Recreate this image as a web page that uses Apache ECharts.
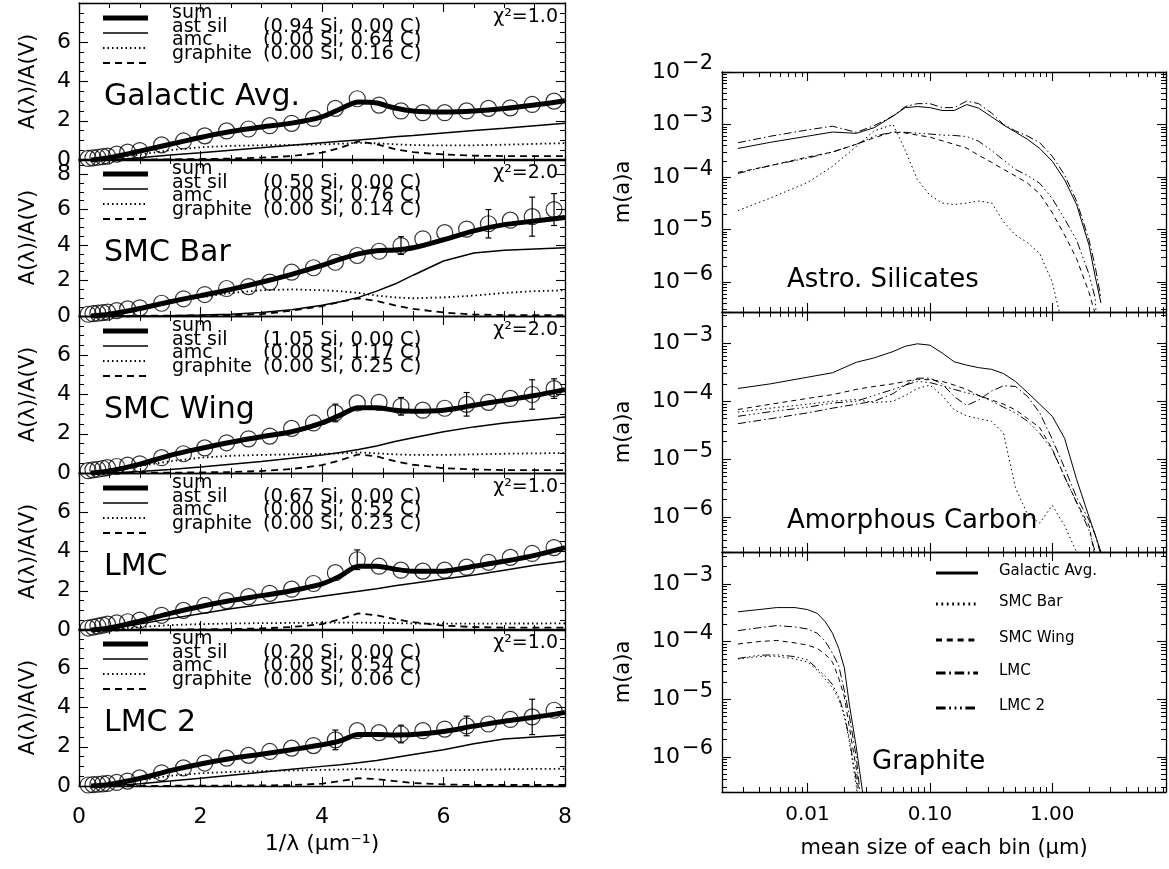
<!DOCTYPE html>
<html>
<head>
<meta charset="utf-8">
<script src="https://cdn.jsdelivr.net/npm/echarts@6/dist/echarts.min.js"></script>
<style>
  html, body { margin: 0; background: #fff; }
  #chart { width: 1169px; height: 869px; }
</style>
</head>
<body>
<div id="chart"></div>
<script>
  // 1/lambda positions of the observed points (same for every sight line)
  const xObs = [0.15, 0.23, 0.31, 0.39, 0.47, 0.62, 0.8, 1.0, 1.36, 1.72, 2.07, 2.43, 2.79, 3.14, 3.5, 3.86, 4.22, 4.58, 4.94, 5.3, 5.66, 6.02, 6.38, 6.74, 7.1, 7.46, 7.82]
  // 1/lambda positions of the model curves
  const xMod = [0.2, 0.5, 1, 1.5, 2, 2.5, 3, 3.5, 4, 4.3, 4.6, 4.9, 5.2, 5.5, 6, 6.5, 7, 7.5, 8]

  // Galactic Avg.
  const galObs = [0.08, 0.11, 0.14, 0.17, 0.2, 0.3, 0.4, 0.48, 0.77, 0.97, 1.23, 1.48, 1.58, 1.75, 1.87, 2.12, 2.63, 3.12, 2.8, 2.5, 2.41, 2.41, 2.5, 2.63, 2.66, 2.83, 3.0]
  const galSum = [0, 0.12, 0.45, 0.8, 1.15, 1.45, 1.68, 1.88, 2.2, 2.6, 2.95, 2.9, 2.65, 2.5, 2.45, 2.5, 2.62, 2.8, 3.02]
  const galSil = [0, 0, 0.12, 0.25, 0.37, 0.5, 0.62, 0.75, 0.88, 0.95, 1.02, 1.1, 1.18, 1.25, 1.38, 1.5, 1.62, 1.75, 1.87]
  const galAmc = [0, 0.08, 0.28, 0.5, 0.65, 0.72, 0.75, 0.77, 0.8, 0.83, 0.88, 0.85, 0.8, 0.76, 0.74, 0.75, 0.78, 0.82, 0.86]
  const galGra = [0, 0.01, 0.02, 0.03, 0.05, 0.07, 0.12, 0.2, 0.38, 0.62, 0.95, 0.8, 0.55, 0.4, 0.28, 0.22, 0.2, 0.2, 0.2]

  // SMC Bar
  const barObs = [0.1, 0.13, 0.16, 0.19, 0.22, 0.3, 0.4, 0.46, 0.72, 0.97, 1.21, 1.55, 1.66, 1.91, 2.47, 2.72, 3.03, 3.41, 3.65, 3.97, 4.35, 4.7, 4.9, 5.2, 5.4, 5.6, 6.0]
  const barErrX = [5.3, 6.74, 7.46, 7.82]
  const barErrLen = [0.5, 0.8, 1.1, 0.9]
  const barSum = [0, 0.1, 0.42, 0.8, 1.15, 1.5, 1.9, 2.35, 2.85, 3.2, 3.5, 3.68, 3.72, 3.85, 4.3, 4.8, 5.15, 5.35, 5.55]
  const barSil = [0, 0, 0, 0.02, 0.05, 0.1, 0.2, 0.35, 0.6, 0.8, 1.05, 1.4, 1.8, 2.3, 3.1, 3.55, 3.7, 3.78, 3.85]
  const barAmc = [0, 0.08, 0.35, 0.75, 1.05, 1.3, 1.45, 1.5, 1.45, 1.4, 1.3, 1.15, 1.05, 1.0, 1.05, 1.15, 1.3, 1.4, 1.45]
  const barGra = [0, 0, 0.01, 0.02, 0.03, 0.05, 0.1, 0.3, 0.55, 0.8, 1.0, 0.85, 0.6, 0.4, 0.2, 0.08, 0.05, 0.05, 0.05]

  // SMC Wing
  const wingObs = [0.12, 0.16, 0.19, 0.23, 0.27, 0.33, 0.4, 0.47, 0.78, 0.98, 1.28, 1.54, 1.74, 1.88, 2.27, 2.55, 3.06, 3.57, 3.6, 3.4, 3.2, 3.3, 3.5, 3.6, 3.8, 4.0, 4.3]
  const wingErrX = [4.22, 5.3, 6.38, 7.46, 7.82]
  const wingErrLen = [0.45, 0.45, 0.6, 0.75, 0.5]
  const wingSum = [0, 0.1, 0.45, 0.9, 1.25, 1.57, 1.85, 2.1, 2.55, 2.95, 3.32, 3.32, 3.2, 3.15, 3.2, 3.45, 3.7, 3.95, 4.25]
  const wingSil = [0, 0, 0.08, 0.18, 0.3, 0.45, 0.58, 0.75, 0.92, 1.05, 1.2, 1.38, 1.6, 1.8, 2.1, 2.35, 2.55, 2.7, 2.85]
  const wingAmc = [0, 0.1, 0.35, 0.6, 0.78, 0.88, 0.92, 0.95, 0.97, 1.0, 1.05, 1.0, 0.95, 0.92, 0.92, 0.95, 0.98, 1.0, 1.02]
  const wingGra = [0, 0, 0.01, 0.02, 0.03, 0.05, 0.1, 0.2, 0.4, 0.65, 0.95, 0.85, 0.6, 0.42, 0.25, 0.18, 0.15, 0.15, 0.15]

  // LMC
  const lmcObs = [0.1, 0.15, 0.2, 0.25, 0.3, 0.36, 0.42, 0.5, 0.75, 1.0, 1.25, 1.5, 1.7, 1.87, 2.08, 2.37, 2.92, 3.58, 3.25, 3.05, 3.0, 3.05, 3.2, 3.45, 3.7, 3.9, 4.2]
  const lmcErrX = [4.58]
  const lmcErrLen = [0.5]
  const lmcSum = [0, 0.1, 0.45, 0.85, 1.2, 1.5, 1.75, 2.0, 2.35, 2.75, 3.25, 3.25, 3.1, 3.0, 3.0, 3.25, 3.5, 3.8, 4.2]
  const lmcSil = [0, 0.05, 0.3, 0.58, 0.83, 1.08, 1.3, 1.5, 1.72, 1.85, 1.97, 2.1, 2.25, 2.38, 2.6, 2.8, 3.05, 3.3, 3.5]
  const lmcAmc = [0, 0.05, 0.15, 0.25, 0.3, 0.33, 0.35, 0.36, 0.37, 0.38, 0.38, 0.36, 0.35, 0.33, 0.32, 0.32, 0.33, 0.33, 0.34]
  const lmcGra = [0, 0, 0.01, 0.02, 0.03, 0.05, 0.08, 0.15, 0.3, 0.55, 0.85, 0.75, 0.55, 0.4, 0.22, 0.15, 0.12, 0.12, 0.12]

  // LMC 2
  const lmc2Obs = [0.05, 0.07, 0.09, 0.11, 0.13, 0.18, 0.25, 0.41, 0.67, 0.92, 1.17, 1.42, 1.56, 1.76, 1.93, 2.06, 2.35, 2.82, 2.72, 2.65, 2.82, 2.9, 3.06, 3.16, 3.39, 3.52, 3.86]
  const lmc2ErrX = [4.22, 5.3, 6.38, 7.46]
  const lmc2ErrLen = [0.5, 0.45, 0.5, 0.9]
  const lmc2Sum = [0, 0.08, 0.38, 0.78, 1.12, 1.4, 1.62, 1.85, 2.1, 2.3, 2.62, 2.62, 2.6, 2.62, 2.78, 3.05, 3.3, 3.5, 3.75]
  const lmc2Sil = [0, 0, 0.12, 0.25, 0.4, 0.55, 0.7, 0.85, 1.0, 1.08, 1.18, 1.3, 1.45, 1.6, 1.85, 2.15, 2.4, 2.5, 2.6]
  const lmc2Amc = [0, 0.08, 0.3, 0.52, 0.65, 0.72, 0.76, 0.79, 0.82, 0.84, 0.86, 0.84, 0.82, 0.8, 0.8, 0.82, 0.85, 0.87, 0.88]
  const lmc2Gra = [0, 0, 0.01, 0.01, 0.02, 0.02, 0.03, 0.05, 0.12, 0.25, 0.4, 0.35, 0.25, 0.15, 0.08, 0.05, 0.05, 0.05, 0.05]

  // grain size bins (micron) for silicate and amorphous carbon
  const binSizes = [0.0027, 0.005, 0.01, 0.016, 0.025, 0.035, 0.05, 0.063, 0.079, 0.1, 0.126, 0.158, 0.2, 0.25, 0.32, 0.4, 0.5, 0.63, 0.79, 1.0, 1.26, 1.58, 2.0, 2.24, 2.5]
  // Astro. Silicates m(a)a
  const silGal = [3.5e-4, 4.6e-4, 6.0e-4, 7.2e-4, 6.8e-4, 8.7e-4, 1.45e-3, 2.1e-3, 2.2e-3, 2.1e-3, 1.85e-3, 1.85e-3, 2.4e-3, 2.05e-3, 1.4e-3, 9.8e-4, 7.2e-4, 5.2e-4, 3.5e-4, 2.0e-4, 8.9e-5, 3.0e-5, 5.0e-6, 1.3e-6, 4.0e-7]
  const silBar = [2.3e-5, 4.0e-5, 7.9e-5, 1.6e-4, 3.8e-4, 7.6e-4, 1.0e-3, 3.2e-4, 9.0e-5, 4.5e-5, 3.2e-5, 3.0e-5, 3.2e-5, 3.5e-5, 3.2e-5, 1.4e-5, 7.9e-6, 5.6e-6, 3.5e-6, 1.0e-6, 1e-7, null, null, null, null]
  const silWing = [1.23e-4, 1.66e-4, 2.4e-4, 3.0e-4, 4.2e-4, 5.6e-4, 7.2e-4, 6.9e-4, 6.3e-4, 5.75e-4, 4.9e-4, 4.2e-4, 3.55e-4, 2.6e-4, 1.9e-4, 1.4e-4, 1.05e-4, 7.6e-5, 4.8e-5, 2.1e-5, 7.9e-6, 2.8e-6, 6.3e-7, 2.5e-7, 1e-8]
  const silLMC = [4.5e-4, 6.0e-4, 7.9e-4, 9.3e-4, 7.1e-4, 9.5e-4, 1.45e-3, 2.2e-3, 2.5e-3, 2.5e-3, 2.1e-3, 2.1e-3, 2.8e-3, 2.5e-3, 1.65e-3, 1.0e-3, 7.6e-4, 6.0e-4, 4.5e-4, 2.5e-4, 1.1e-4, 3.5e-5, 6.3e-6, 2.0e-6, 5.0e-7]
  const silLMC2 = [1.17e-4, 1.66e-4, 2.3e-4, 3.0e-4, 4.2e-4, 6.0e-4, 7.2e-4, 7.1e-4, 6.8e-4, 6.6e-4, 6.3e-4, 6.2e-4, 5.9e-4, 4.8e-4, 3.2e-4, 2.1e-4, 1.4e-4, 1.07e-4, 7.6e-5, 3.9e-5, 1.6e-5, 6.3e-6, 1.4e-6, 5.0e-7, 1e-8]
  // Amorphous Carbon m(a)a
  const amcGal = [1.66e-4, 2.0e-4, 2.6e-4, 3.1e-4, 4.7e-4, 5.6e-4, 7.2e-4, 8.9e-4, 9.8e-4, 9.3e-4, 6.8e-4, 4.8e-4, 4.2e-4, 3.8e-4, 3.55e-4, 3.0e-4, 2.2e-4, 1.4e-4, 8.9e-5, 5.5e-5, 2.3e-5, 4.5e-6, 1.0e-6, 5.0e-7, 2.5e-7]
  const amcBar = [6.5e-5, 7.6e-5, 8.9e-5, 1.0e-4, 1.07e-4, 9.5e-5, 1.0e-4, 1.26e-4, 1.66e-4, 1.9e-4, 1.26e-4, 7.1e-5, 5.6e-5, 5.0e-5, 4.5e-5, 2.8e-5, 3.2e-6, 1.1e-6, 7.9e-7, 1.6e-6, 7.1e-7, 2.5e-7, 1e-8, null, null]
  const amcWing = [7.2e-5, 8.9e-5, 1.12e-4, 1.3e-4, 1.6e-4, 1.8e-4, 2.0e-4, 2.2e-4, 2.4e-4, 2.35e-4, 2.2e-4, 1.9e-4, 1.6e-4, 1.26e-4, 1.05e-4, 8.9e-5, 7.1e-5, 5.0e-5, 3.5e-5, 1.5e-5, 5.0e-6, 1.8e-6, 7.1e-7, 2.0e-7, 1e-8]
  const amcLMC = [4.1e-5, 5.0e-5, 6.3e-5, 7.6e-5, 8.9e-5, 1.0e-4, 1.35e-4, 1.9e-4, 2.5e-4, 2.5e-4, 2.0e-4, 1.2e-4, 8.5e-5, 1.05e-4, 1.5e-4, 1.85e-4, 1.8e-4, 1.2e-4, 6.3e-5, 2.2e-5, 7.1e-6, 2.2e-6, 8.9e-7, 5.0e-7, 2.2e-7]
  const amcLMC2 = [5.5e-5, 6.6e-5, 7.9e-5, 9.3e-5, 1.0e-4, 1.26e-4, 1.6e-4, 1.9e-4, 2.2e-4, 2.1e-4, 1.85e-4, 1.6e-4, 1.4e-4, 1.26e-4, 1.0e-4, 7.9e-5, 6.3e-5, 4.5e-5, 2.8e-5, 1.45e-5, 5.0e-6, 1.8e-6, 5.9e-7, 2.5e-7, 1e-8]

  // Graphite bins and m(a)a
  const grSizes = [0.0027, 0.004, 0.0056, 0.0079, 0.01, 0.012, 0.014, 0.016, 0.018, 0.02, 0.022, 0.025, 0.028, 0.032]
  const grGal = [3.3e-4, 3.6e-4, 3.9e-4, 3.9e-4, 3.6e-4, 3.1e-4, 2.2e-4, 1.4e-4, 7.6e-5, 3.5e-5, 7.9e-6, 1.5e-6, 2.7e-7, 3.2e-8]
  const grBar = [5.0e-5, 5.5e-5, 5.6e-5, 5.0e-5, 4.4e-5, 3.2e-5, 2.2e-5, 1.6e-5, 1.0e-5, 5.0e-6, 1.8e-6, 3.2e-7, 3.2e-8, 1e-8]
  const grWing = [9.1e-5, 1.0e-4, 1.05e-4, 9.5e-5, 8.7e-5, 7.6e-5, 6.0e-5, 4.4e-5, 2.3e-5, 1.1e-5, 3.2e-6, 6.3e-7, 6.3e-8, 1e-8]
  const grLMC = [1.55e-4, 1.74e-4, 1.9e-4, 1.8e-4, 1.66e-4, 1.4e-4, 1.0e-4, 6.3e-5, 3.8e-5, 1.4e-5, 5.0e-6, 1.0e-6, 1e-7, 1e-8]
  const grLMC2 = [5.1e-5, 5.8e-5, 5.9e-5, 5.5e-5, 4.8e-5, 3.4e-5, 2.5e-5, 1.8e-5, 1.1e-5, 5.6e-6, 2.0e-6, 4.0e-7, 4.0e-8, 1e-8]

  const FONT = 'DejaVu Sans'
  const BLACK = '#000'
  // IDL line styles
  const DOT = [1.5, 3]
  const DASH = [7, 5]
  const DASHDOT = [8, 3, 1.5, 3]
  const DASH3DOT = [8, 3, 1.5, 3, 1.5, 3, 1.5, 3]

  const leftPanels = [
    { name: 'Galactic Avg.', obs: galObs, errX: [], errLen: [], sum: galSum, sil: galSil, amc: galAmc, gra: galGra, ymax: 8, chi: '1.0', mix: ['(0.94 Si, 0.00 C)', '(0.00 Si, 0.64 C)', '(0.00 Si, 0.16 C)'] },
    { name: 'SMC Bar', obs: barObs, errX: barErrX, errLen: barErrLen, sum: barSum, sil: barSil, amc: barAmc, gra: barGra, ymax: 8.85, chi: '2.0', mix: ['(0.50 Si, 0.00 C)', '(0.00 Si, 0.76 C)', '(0.00 Si, 0.14 C)'] },
    { name: 'SMC Wing', obs: wingObs, errX: wingErrX, errLen: wingErrLen, sum: wingSum, sil: wingSil, amc: wingAmc, gra: wingGra, ymax: 8, chi: '2.0', mix: ['(1.05 Si, 0.00 C)', '(0.00 Si, 1.17 C)', '(0.00 Si, 0.25 C)'] },
    { name: 'LMC', obs: lmcObs, errX: lmcErrX, errLen: lmcErrLen, sum: lmcSum, sil: lmcSil, amc: lmcAmc, gra: lmcGra, ymax: 8, chi: '1.0', mix: ['(0.67 Si, 0.00 C)', '(0.00 Si, 0.52 C)', '(0.00 Si, 0.23 C)'] },
    { name: 'LMC 2', obs: lmc2Obs, errX: lmc2ErrX, errLen: lmc2ErrLen, sum: lmc2Sum, sil: lmc2Sil, amc: lmc2Amc, gra: lmc2Gra, ymax: 8, chi: '1.0', mix: ['(0.20 Si, 0.00 C)', '(0.00 Si, 0.54 C)', '(0.00 Si, 0.06 C)'] }
  ]
  const rightPanels = [
    { title: 'Astro. Silicates', titleX: 787, titleY: 280, sizes: binSizes, ymin: 2.7e-7, ymax: 1e-2, lines: [silGal, silBar, silWing, silLMC, silLMC2] },
    { title: 'Amorphous Carbon', titleX: 787, titleY: 521, sizes: binSizes, ymin: 2.5e-7, ymax: 3.47e-3, lines: [amcGal, amcBar, amcWing, amcLMC, amcLMC2] },
    { title: 'Graphite', titleX: 872, titleY: 762, sizes: grSizes, ymin: 2.45e-7, ymax: 3.6e-3, lines: [grGal, grBar, grWing, grLMC, grLMC2] }
  ]
  const envNames = ['Galactic Avg.', 'SMC Bar', 'SMC Wing', 'LMC', 'LMC 2']
  const envDash = ['solid', DOT, [5, 4], DASHDOT, DASH3DOT]

  const leftTops = [3, 159, 316, 473, 629]
  const leftH = 157
  const rightTops = [72, 312, 552]
  const rightH = 240

  const pairs = (xs, ys) => xs.map((x, i) => [x, ys[i]])

  const axisLine = () => ({ show: true, onZero: false, lineStyle: { color: BLACK, width: 1.3 } })
  const majorTick = () => ({ show: true, inside: true, length: 9, lineStyle: { color: BLACK, width: 1.1 } })
  const minorTick = (n) => ({ show: true, splitNumber: n, length: 5, lineStyle: { color: BLACK, width: 1 } })

  const grids = []
  const xAxes = []
  const yAxes = []
  const series = []
  const graphics = []

  /** 左列：消光曲线 */
  leftPanels.forEach((p, i) => {
    const gi = grids.length
    grids.push({ left: 79, width: 486, top: leftTops[i], height: leftH })
    const xi = xAxes.length
    const last = i === leftPanels.length - 1
    ;['bottom', 'top'].forEach((pos) => {
      xAxes.push({
        type: 'value', gridIndex: gi, position: pos, min: 0, max: 8, interval: 2,
        axisLine: axisLine(), axisTick: majorTick(), minorTick: minorTick(4), splitLine: { show: false },
        axisLabel: { show: last && pos === 'bottom', margin: 20, fontSize: 22, color: BLACK, fontFamily: FONT },
        name: last && pos === 'bottom' ? '1/λ (μm⁻¹)' : '',
        nameLocation: 'middle', nameGap: 47,
        nameTextStyle: { fontSize: 22, color: BLACK, fontFamily: FONT }
      })
    })
    const yi = yAxes.length
    ;['left', 'right'].forEach((pos) => {
      yAxes.push({
        type: 'value', gridIndex: gi, position: pos, min: 0, max: p.ymax, interval: 2,
        axisLine: axisLine(), axisTick: majorTick(), minorTick: minorTick(4), splitLine: { show: false },
        axisLabel: { show: pos === 'left', showMaxLabel: false, margin: 8, fontSize: 22, color: BLACK, fontFamily: FONT },
        name: pos === 'left' ? 'A(λ)/A(V)' : '',
        nameLocation: 'middle', nameGap: 40,
        nameTextStyle: { fontSize: 21, color: BLACK, fontFamily: FONT }
      })
    })
    const base = { type: 'line', xAxisIndex: xi, yAxisIndex: yi, symbol: 'none', silent: true, animation: false }
    series.push(
      { ...base, data: pairs(xMod, p.sil), lineStyle: { color: BLACK, width: 1.5 } },
      { ...base, data: pairs(xMod, p.amc), lineStyle: { color: BLACK, width: 1.8, type: DOT } },
      { ...base, data: pairs(xMod, p.gra), lineStyle: { color: BLACK, width: 1.8, type: DASH } },
      { ...base, data: pairs(xMod, p.sum), smooth: 0.3, lineStyle: { color: BLACK, width: 5 } },
      {
        type: 'scatter', xAxisIndex: xi, yAxisIndex: yi, silent: true, animation: false,
        symbol: 'circle', symbolSize: 16, data: pairs(xObs, p.obs),
        itemStyle: { color: 'rgba(0,0,0,0)', borderColor: BLACK, borderWidth: 1.2 }
      }
    )
    if (p.errX.length) {
      const errData = p.errX.map((x, k) => {
        const y = p.obs[xObs.indexOf(x)]
        return [x, y - p.errLen[k], y + p.errLen[k]]
      })
      series.push({
        type: 'custom', xAxisIndex: xi, yAxisIndex: yi, silent: true, animation: false, data: errData,
        renderItem: (params, api) => {
          const lo = api.coord([api.value(0), api.value(1)])
          const hi = api.coord([api.value(0), api.value(2)])
          const st = { stroke: BLACK, lineWidth: 1.2 }
          return {
            type: 'group',
            children: [
              { type: 'line', shape: { x1: lo[0], y1: lo[1], x2: hi[0], y2: hi[1] }, style: st },
              { type: 'line', shape: { x1: lo[0] - 3, y1: lo[1], x2: lo[0] + 3, y2: lo[1] }, style: st },
              { type: 'line', shape: { x1: hi[0] - 3, y1: hi[1], x2: hi[0] + 3, y2: hi[1] }, style: st }
            ]
          }
        }
      })
    }
    // 图例
    const T = leftTops[i]
    const sample = (y, w, dash) => ({
      type: 'line', silent: true, shape: { x1: 103, y1: T + y, x2: 148, y2: T + y },
      style: { stroke: BLACK, lineWidth: w, lineDash: dash }
    })
    graphics.push(sample(15, 5, null), sample(30, 1.5, null), sample(45, 1.8, DOT), sample(60, 1.8, DASH))
    const txt = (x, y, s, size, extra) => ({
      type: 'text', silent: true, x, y,
      style: { text: s, fill: BLACK, font: `${size}px '${FONT}'`, textVerticalAlign: 'middle', ...extra }
    })
    ;['sum', 'ast sil', 'amc', 'graphite'].forEach((s, k) => graphics.push(txt(172, T + 10 + k * 13.7, s, 19)))
    p.mix.forEach((s, k) => graphics.push(txt(263, T + 23.7 + k * 13.7, s, 19.5)))
    graphics.push(txt(558, T + 14, 'χ²=' + p.chi, 19, { textAlign: 'right' }))
    graphics.push(txt(104, T + 94, p.name, 30))
  })

  /** 右列：尺寸分布 */
  rightPanels.forEach((p, i) => {
    const gi = grids.length
    grids.push({ left: 722, width: 444, top: rightTops[i], height: rightH })
    const xi = xAxes.length
    const last = i === rightPanels.length - 1
    ;['bottom', 'top'].forEach((pos) => {
      xAxes.push({
        type: 'log', logBase: 10, gridIndex: gi, position: pos, min: 0.002, max: 8.5,
        axisLine: axisLine(), axisTick: majorTick(), minorTick: minorTick(9), splitLine: { show: false },
        axisLabel: {
          show: last && pos === 'bottom', showMinLabel: false, showMaxLabel: false,
          margin: 13, fontSize: 20, color: BLACK, fontFamily: FONT,
          formatter: (v) => v.toFixed(2)
        },
        name: last && pos === 'bottom' ? 'mean size of each bin (μm)' : '',
        nameLocation: 'middle', nameGap: 46,
        nameTextStyle: { fontSize: 21, color: BLACK, fontFamily: FONT }
      })
    })
    const yi = yAxes.length
    ;['left', 'right'].forEach((pos) => {
      yAxes.push({
        type: 'log', logBase: 10, gridIndex: gi, position: pos, min: p.ymin, max: p.ymax,
        axisLine: axisLine(), axisTick: majorTick(), minorTick: minorTick(9), splitLine: { show: false },
        axisLabel: {
          show: pos === 'left', showMinLabel: false, showMaxLabel: i === 0, margin: 9,
          formatter: (v) => '{b|10}{s|−' + Math.round(-Math.log10(v)) + '}',
          rich: {
            b: { fontSize: 22, color: BLACK, fontFamily: FONT },
            s: { fontSize: 21, color: BLACK, fontFamily: FONT, padding: [0, 0, 16, 2] }
          }
        },
        name: pos === 'left' ? 'm(a)a' : '',
        nameLocation: 'middle', nameGap: 88,
        nameTextStyle: { fontSize: 21, color: BLACK, fontFamily: FONT }
      })
    })
    p.lines.forEach((vals, k) => {
      series.push({
        type: 'line', xAxisIndex: xi, yAxisIndex: yi, symbol: 'none', silent: true, animation: false,
        data: pairs(p.sizes, vals),
        lineStyle: { color: BLACK, width: 1, type: envDash[k] }
      })
    })
    graphics.push({
      type: 'text', silent: true, x: p.titleX, y: p.titleY,
      style: { text: p.title, fill: BLACK, font: `26px '${FONT}'`, textVerticalAlign: 'middle' }
    })
  })

  // 石墨面板里的图例
  const legendRows = [573, 604, 640, 673, 708]
  envNames.forEach((n, k) => {
    graphics.push({
      type: 'line', silent: true, shape: { x1: 936, y1: legendRows[k], x2: 978, y2: legendRows[k] },
      style: { stroke: BLACK, lineWidth: 3, lineDash: envDash[k] === 'solid' ? null : envDash[k].map((d) => d * 1.2) }
    })
    graphics.push({
      type: 'text', silent: true, x: 999, y: legendRows[k] - 2,
      style: { text: n, fill: BLACK, font: `15px '${FONT}'`, textVerticalAlign: 'middle' }
    })
  })

  const chart = echarts.init(document.getElementById('chart'))
  chart.setOption({
    animation: false,
    backgroundColor: '#fff',
    grid: grids,
    xAxis: xAxes,
    yAxis: yAxes,
    series,
    graphic: graphics
  })
</script>
</body>
</html>
